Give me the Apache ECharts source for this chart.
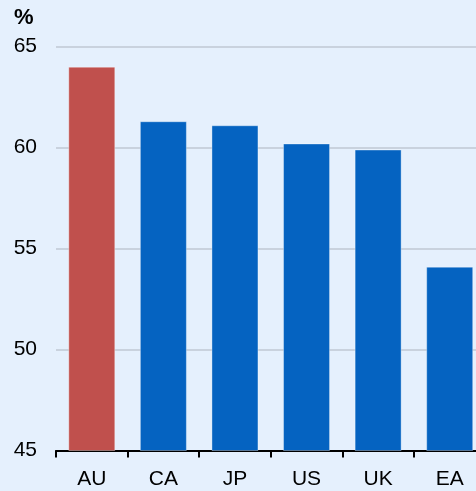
<!DOCTYPE html>
<html>
<head>
<meta charset="utf-8">
<script src="https://cdn.jsdelivr.net/npm/echarts@6/dist/echarts.min.js"></script>
<style>
html,body{margin:0;padding:0;background:#E5F0FD;}
#chart{width:476px;height:491px;}
</style>
</head>
<body>
<div id="chart"></div>
<script>
var countries = ['AU', 'CA', 'JP', 'US', 'UK', 'EA'];
var shares = [64.0, 61.3, 61.1, 60.2, 59.9, 54.1];
var barColors = ['#C0504D', '#0563C1', '#0563C1', '#0563C1', '#0563C1', '#0563C1'];
var yTicks = [45, 50, 55, 60, 65];

var chart = echarts.init(document.getElementById('chart'), null, {renderer: 'canvas'});

var barData = [];
for (var i = 0; i < shares.length; i++) {
	barData.push({
		value: shares[i],
		itemStyle: {color: barColors[i]}
	});
}

chart.setOption({
	backgroundColor: '#E5F0FD',
	animation: false,
	textStyle: {fontFamily: 'Arial, "Liberation Sans", sans-serif'},
	graphic: [{
		type: 'text',
		left: 14,
		top: 7,
		style: {text: '%', font: 'bold 22px Arial, "Liberation Sans", sans-serif', fill: '#000'}
	}],
	grid: {left: 56, top: 46.5, right: -9.5, bottom: 40.5, containLabel: false, outerBoundsMode: 'none'},
	xAxis: {
		type: 'category',
		data: countries,
		axisLine: {lineStyle: {color: '#000', width: 2}},
		axisTick: {show: true, length: 7, lineStyle: {color: '#000', width: 2}},
		axisLabel: {color: '#000', fontSize: 21, margin: 18},
		splitLine: {show: false}
	},
	yAxis: {
		type: 'value',
		min: yTicks[0],
		max: yTicks[yTicks.length - 1],
		interval: 5,
		axisLine: {show: false},
		axisTick: {show: false},
		axisLabel: {color: '#000', fontSize: 21, margin: 19},
		splitLine: {lineStyle: {color: '#BFC8D3', width: 1.5}}
	},
	series: [{
		type: 'bar',
		data: barData,
		barWidth: 47,
		itemStyle: {borderColor: 'rgba(255,255,255,0.35)', borderWidth: 1}
	}]
});
</script>
</body>
</html>
